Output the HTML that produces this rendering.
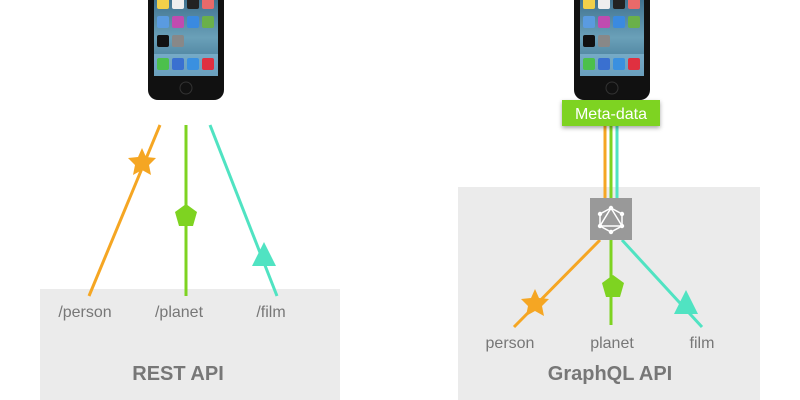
<!DOCTYPE html>
<html><head><style>
body{margin:0;width:800px;height:400px;background:#fff;overflow:hidden}
svg{display:block}
text{font-family:"Liberation Sans",sans-serif}
</style></head><body>
<svg width="800" height="400" viewBox="0 0 800 400">
<defs>
<linearGradient id="scr" x1="0" y1="0" x2="0" y2="1">
<stop offset="0" stop-color="#2a5a7a"/><stop offset="0.6" stop-color="#6aa0b8"/><stop offset="1" stop-color="#3a6f8f"/>
</linearGradient>
<filter id="sh" x="-20%" y="-30%" width="140%" height="170%"><feDropShadow dx="0" dy="2" stdDeviation="2" flood-opacity="0.35"/></filter>
<g id="phone">
<rect x="0" y="-20" width="76" height="120" rx="10" fill="#111"/>
<rect x="6" y="-20" width="64" height="96" fill="url(#scr)"/>
<rect x="9" y="-3" width="12" height="12" rx="2" fill="#f2d04a"/>
<rect x="24" y="-3" width="12" height="12" rx="2" fill="#eee"/>
<rect x="39" y="-3" width="12" height="12" rx="2" fill="#222"/>
<rect x="54" y="-3" width="12" height="12" rx="2" fill="#e86a6a"/>
<rect x="9" y="16" width="12" height="12" rx="2" fill="#5a9be0"/>
<rect x="24" y="16" width="12" height="12" rx="2" fill="#c04bb0"/>
<rect x="39" y="16" width="12" height="12" rx="2" fill="#3a8ae0"/>
<rect x="54" y="16" width="12" height="12" rx="2" fill="#6ab04a"/>
<rect x="9" y="35" width="12" height="12" rx="2" fill="#111"/>
<rect x="24" y="35" width="12" height="12" rx="2" fill="#888"/>
<rect x="6" y="54" width="64" height="22" fill="#8cc0dc" opacity="0.6"/>
<rect x="9" y="58" width="12" height="12" rx="2" fill="#4cc04c"/>
<rect x="24" y="58" width="12" height="12" rx="2" fill="#3a70d0"/>
<rect x="39" y="58" width="12" height="12" rx="2" fill="#3a90e0"/>
<rect x="54" y="58" width="12" height="12" rx="2" fill="#e03040"/>
<circle cx="38" cy="88" r="6" fill="none" stroke="#333" stroke-width="1"/>
</g>
</defs>
<rect x="40" y="289" width="300" height="111" fill="#ebebeb"/>
<rect x="458" y="187" width="302" height="213" fill="#ebebeb"/>
<use href="#phone" x="148" y="0"/>
<use href="#phone" x="574" y="0"/>
<line x1="160" y1="125" x2="89" y2="296" stroke="#f5a623" stroke-width="3"/>
<line x1="186" y1="125" x2="186" y2="296" stroke="#7ed321" stroke-width="3"/>
<line x1="210" y1="125" x2="277" y2="296" stroke="#50e3c2" stroke-width="3"/>
<polygon points="142,148 146,157 156,158 149,165 151,175 142,170 133,175 135,165 128,158 138,157" fill="#f5a623"/>
<polygon points="186,204 197,212 193,226 179,226 175,212" fill="#7ed321"/>
<polygon points="264,242 276,266 252,266" fill="#50e3c2"/>
<text x="85" y="317" font-size="16" fill="#777" text-anchor="middle">/person</text>
<text x="179" y="317" font-size="16" fill="#777" text-anchor="middle">/planet</text>
<text x="271" y="317" font-size="16" fill="#777" text-anchor="middle">/film</text>
<text x="178" y="380" font-size="20" font-weight="bold" fill="#777" text-anchor="middle">REST API</text>
<line x1="605" y1="125" x2="605" y2="200" stroke="#f5a623" stroke-width="3"/>
<line x1="611" y1="125" x2="611" y2="200" stroke="#7ed321" stroke-width="3"/>
<line x1="617" y1="125" x2="617" y2="200" stroke="#50e3c2" stroke-width="3"/>
<rect x="562" y="100" width="98" height="26" fill="#7ed321" filter="url(#sh)"/>
<text x="611" y="119" font-size="16" fill="#fff" text-anchor="middle">Meta-data</text>
<line x1="600" y1="240" x2="514" y2="327" stroke="#f5a623" stroke-width="3"/>
<line x1="611" y1="240" x2="611" y2="325" stroke="#7ed321" stroke-width="3"/>
<line x1="622" y1="240" x2="702" y2="327" stroke="#50e3c2" stroke-width="3"/>
<rect x="590" y="198" width="42" height="42" fill="#999"/>
<g stroke="#fff" stroke-width="1.5" fill="none">
<polygon points="611,208 622,214 622,226 611,232 600,226 600,214"/>
<polygon points="611,208 622,226 600,226"/>
</g>
<g fill="#fff"><circle cx="611" cy="208" r="2.2"/><circle cx="622" cy="214" r="2.2"/><circle cx="622" cy="226" r="2.2"/><circle cx="611" cy="232" r="2.2"/><circle cx="600" cy="226" r="2.2"/><circle cx="600" cy="214" r="2.2"/></g>
<polygon points="535,289 539,298 549,299 542,306 544,316 535,311 526,316 528,306 521,299 531,298" fill="#f5a623"/>
<polygon points="613,275 624,283 620,297 606,297 602,283" fill="#7ed321"/>
<polygon points="686,290 698,314 674,314" fill="#50e3c2"/>
<text x="510" y="348" font-size="16" fill="#777" text-anchor="middle">person</text>
<text x="612" y="348" font-size="16" fill="#777" text-anchor="middle">planet</text>
<text x="702" y="348" font-size="16" fill="#777" text-anchor="middle">film</text>
<text x="610" y="380" font-size="20" font-weight="bold" fill="#777" text-anchor="middle">GraphQL API</text>
</svg>
</body></html>
